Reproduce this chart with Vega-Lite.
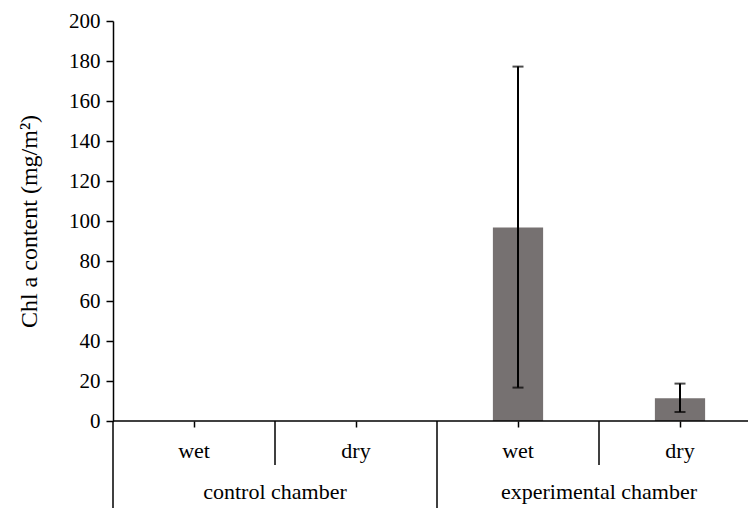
{
  "$schema": "https://vega.github.io/schema/vega-lite/v6.json",
  "width": 635,
  "height": 488,
  "padding": {"left": 17, "top": 10, "right": 0, "bottom": 0},
  "autosize": {"type": "pad"},
  "background": "white",
  "config": {
    "view": {"stroke": null},
    "font": "Liberation Serif",
    "axis": {"grid": false, "domainColor": "black", "tickColor": "black", "domainWidth": 1.5, "tickWidth": 1.5, "labelColor": "black", "titleColor": "black", "labelFont": "Liberation Serif", "titleFont": "Liberation Serif"}
  },
  "datasets": {
    "bars": [
      {"cat": "c-wet", "value": 0, "lo": null, "hi": null},
      {"cat": "c-dry", "value": 0, "lo": null, "hi": null},
      {"cat": "e-wet", "value": 96.8, "lo": 16.7, "hi": 177.2},
      {"cat": "e-dry", "value": 11.4, "lo": 4.5, "hi": 18.7}
    ],
    "subLabels": [
      {"cat": "c-wet", "label": "wet", "level": 0.5},
      {"cat": "c-dry", "label": "dry", "level": 0.5},
      {"cat": "e-wet", "label": "wet", "level": 0.5},
      {"cat": "e-dry", "label": "dry", "level": 0.5}
    ],
    "groupLabels": [
      {"cat": "c-dry", "label": "control chamber", "level": 1.5},
      {"cat": "e-dry", "label": "experimental chamber", "level": 1.5}
    ],
    "separators": [
      {"cat": "c-wet", "from": 0, "to": 2},
      {"cat": "c-dry", "from": 0, "to": 1},
      {"cat": "e-wet", "from": 0, "to": 2},
      {"cat": "e-dry", "from": 0, "to": 1}
    ],
    "baseline": [{"level": 0}]
  },
  "layer": [
    {
      "data": {"name": "bars"},
      "encoding": {
        "x": {
          "field": "cat", "type": "nominal",
          "scale": {"domain": ["c-wet", "c-dry", "e-wet", "e-dry"], "range": [0, 648], "paddingInner": 0, "paddingOuter": 0},
          "axis": {"orient": "bottom", "offset": -88, "domain": false, "labels": false, "ticks": true, "tickSize": 6, "title": null}
        }
      },
      "layer": [
        {
          "mark": {"type": "bar", "color": "#767171", "width": {"band": 0.31}},
          "encoding": {
            "y": {
              "field": "value", "type": "quantitative",
              "scale": {"domain": [0, 200], "range": [400, 0], "nice": false},
              "axis": {
                "title": "Chl a content (mg/m²)",
                "titleFontSize": 24, "titleFontWeight": "normal", "titlePadding": 27,
                "values": [0, 10, 20, 30, 40, 50, 60, 70, 80, 90, 100, 110, 120, 130, 140, 150, 160, 170, 180, 190, 200],
                "labelExpr": "datum.value % 20 === 0 ? datum.label : ''",
                "labelFontSize": 21, "tickSize": 7, "labelPadding": 6
              }
            }
          }
        },
        {
          "mark": {"type": "rule", "color": "black", "strokeWidth": 2},
          "encoding": {
            "y": {"field": "lo", "type": "quantitative"},
            "y2": {"field": "hi"}
          }
        },
        {
          "mark": {"type": "tick", "color": "black", "thickness": 2, "size": 11},
          "encoding": {"y": {"field": "lo", "type": "quantitative"}}
        },
        {
          "mark": {"type": "tick", "color": "black", "thickness": 2, "size": 11},
          "encoding": {"y": {"field": "hi", "type": "quantitative"}}
        }
      ]
    },
    {
      "layer": [
        {
          "data": {"name": "baseline"},
          "mark": {"type": "rule", "color": "black", "strokeWidth": 1.5},
          "encoding": {
            "y": {"field": "level", "type": "quantitative", "scale": {"domain": [0, 2], "range": [400, 488], "nice": false, "zero": false}, "axis": null}
          }
        },
        {
          "data": {"name": "separators"},
          "mark": {"type": "rule", "color": "black", "strokeWidth": 1.5},
          "encoding": {
            "x": {"field": "cat", "type": "nominal", "bandPosition": 0},
            "y": {"field": "from", "type": "quantitative"},
            "y2": {"field": "to"}
          }
        },
        {
          "data": {"name": "subLabels"},
          "mark": {"type": "text", "fontSize": 22, "baseline": "alphabetic", "dy": 15, "color": "black"},
          "encoding": {
            "x": {"field": "cat", "type": "nominal", "bandPosition": 0.5},
            "y": {"field": "level", "type": "quantitative"},
            "text": {"field": "label"}
          }
        },
        {
          "data": {"name": "groupLabels"},
          "mark": {"type": "text", "fontSize": 22, "baseline": "alphabetic", "dy": 12, "color": "black"},
          "encoding": {
            "x": {"field": "cat", "type": "nominal", "bandPosition": 0},
            "y": {"field": "level", "type": "quantitative"},
            "text": {"field": "label"}
          }
        }
      ]
    }
  ],
  "resolve": {"scale": {"y": "independent"}, "axis": {"y": "independent"}}
}
